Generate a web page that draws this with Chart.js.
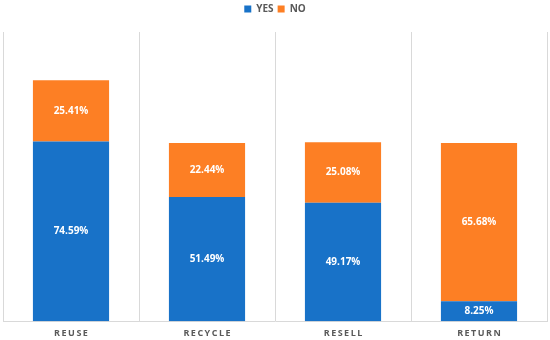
<!DOCTYPE html>
<html>
<head>
<meta charset="utf-8">
<script src="https://cdn.jsdelivr.net/npm/chart.js@4"></script>
<style>
  html, body { margin: 0; padding: 0; background: #fff; }
  #wrap { width: 550px; height: 340px; }
</style>
</head>
<body>
<div id="wrap"><canvas id="chart"></canvas></div>
<script>
// categories and values
var categories = ["REUSE", "RECYCLE", "RESELL", "RETURN"];
var yesValues = [74.59, 51.49, 49.17, 8.25];
var noValues = [25.41, 22.44, 25.08, 65.68];

// draw the % values in the middle of each segment
var barLabels = {
    id: "barLabels",
    afterDatasetsDraw: function (chart) {
        var ctx = chart.ctx;
        ctx.save();
        ctx.fillStyle = "#ffffff";
        ctx.font = "bold 10px 'Open Sans'";
        ctx.textAlign = "center";
        ctx.textBaseline = "middle";
        chart.data.datasets.forEach(function (ds, i) {
            chart.getDatasetMeta(i).data.forEach(function (bar, j) {
                var mid = (bar.y + bar.base) / 2;
                ctx.fillText(ds.data[j].toFixed(2) + "%", bar.x, mid);
            });
        });
        ctx.restore();
    }
};

// extra room under the legend
var legendGap = {
    id: "legendGap",
    beforeInit: function (chart) {
        var fit = chart.legend.fit;
        chart.legend.fit = function () {
            fit.bind(chart.legend)();
            this.height += 8;
        };
    }
};

var chart = new Chart(document.getElementById("chart"), {
    type: "bar",
    data: {
        labels: categories,
        datasets: [{
            label: "YES",
            data: yesValues,
            backgroundColor: "#1872C8"
        }, {
            label: "NO",
            data: noValues,
            backgroundColor: "#FD7F24"
        }]
    },
    options: {
        responsive: true,
        maintainAspectRatio: false,
        animation: false,
        layout: { padding: { left: 3, right: 3, top: 0, bottom: -6 } },
        categoryPercentage: 0.56,
        barPercentage: 1,
        plugins: {
            tooltip: { enabled: false },
            legend: {
                position: "top",
                labels: {
                    boxWidth: 7,
                    boxHeight: 7,
                    padding: 4,
                    color: "#595959",
                    font: { family: "'Open Sans'", size: 10, weight: "bold" }
                }
            }
        },
        scales: {
            x: {
                stacked: true,
                grid: { color: "#d9d9d9", offset: true, drawTicks: false },
                border: { color: "#d9d9d9" },
                ticks: {
                    padding: 7,
                    color: "#595959",
                    font: { family: "'Open Sans'", size: 9, weight: "bold" },
                    callback: function (v, i) {
                        return categories[i].split("").join("\u2009");
                    }
                }
            },
            y: {
                stacked: true,
                display: false,
                min: 0,
                max: 120
            }
        }
    },
    plugins: [barLabels, legendGap]
});
</script>
</body>
</html>
